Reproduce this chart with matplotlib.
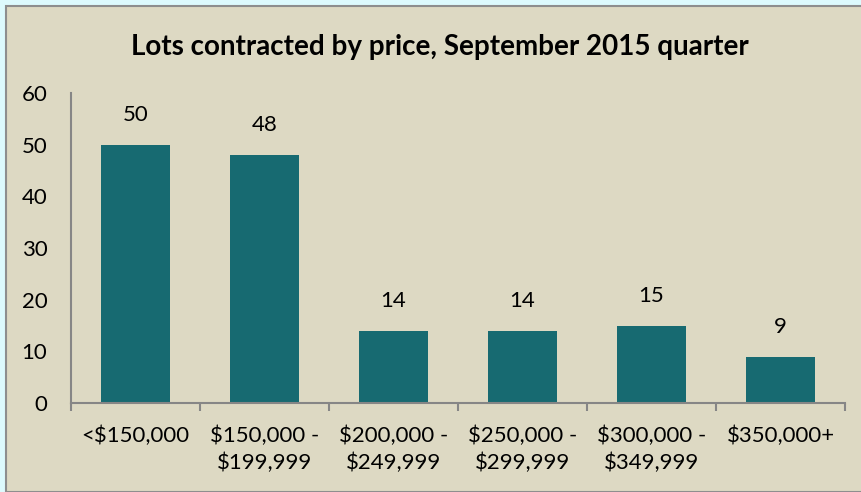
import matplotlib.pyplot as plt
from matplotlib.patches import Rectangle

categories = ["<$150,000", "$150,000 -\n$199,999", "$200,000 -\n$249,999",
              "$250,000 -\n$299,999", "$300,000 -\n$349,999", "$350,000+"]
lots = [50, 48, 14, 14, 15, 9]
yticks = [0, 10, 20, 30, 40, 50, 60]

plt.rcParams['font.family'] = ['Lato', 'DejaVu Sans']

fig = plt.figure(figsize=(8.61, 4.92), dpi=100)
fig.patch.set_facecolor('#DDFAFD')
# chart area with grey frame, drawn behind the axes
frame = Rectangle((6 / 861, 0), 1, 1 - 6 / 492, transform=fig.transFigure,
                  facecolor='#DDD9C3', edgecolor='#8E8E8E', linewidth=1.5, zorder=-10)
fig.patches.append(frame)

ax = fig.add_axes([71 / 861, 89 / 492, 774 / 861, 310 / 492])
ax.set_facecolor('none')

x = range(len(categories))
bars = ax.bar(x, lots, width=0.53, color='#176A71', zorder=2)
for b, v in zip(bars, lots):
    ax.text(b.get_x() + b.get_width() / 2, v + 5.8, str(v), ha='center', va='center',
            fontsize=16)

ax.set_xlim(-0.5, len(categories) - 0.5)
ax.set_ylim(0, 60)
ax.set_yticks(yticks)
ax.set_xticks(list(x))
ax.set_xticklabels(categories, fontsize=16, linespacing=1.4)
ax.tick_params(axis='y', length=0, labelsize=16, pad=17)
ax.tick_params(axis='x', length=0, pad=16)
ax.set_xticks([i - 0.5 for i in range(len(categories) + 1)], minor=True)
ax.tick_params(axis='x', which='minor', length=6, color='#868686', width=1.5)

for s in ['top', 'right']:
    ax.spines[s].set_visible(False)
for s in ['left', 'bottom']:
    ax.spines[s].set_color('#868686')
    ax.spines[s].set_linewidth(1.5)

fig.text(0.511, 1 - 47 / 492, "Lots contracted by price, September 2015 quarter",
         ha='center', va='center', fontsize=20, fontweight='bold')

fig.savefig('out.png', dpi=100, facecolor=fig.get_facecolor())
